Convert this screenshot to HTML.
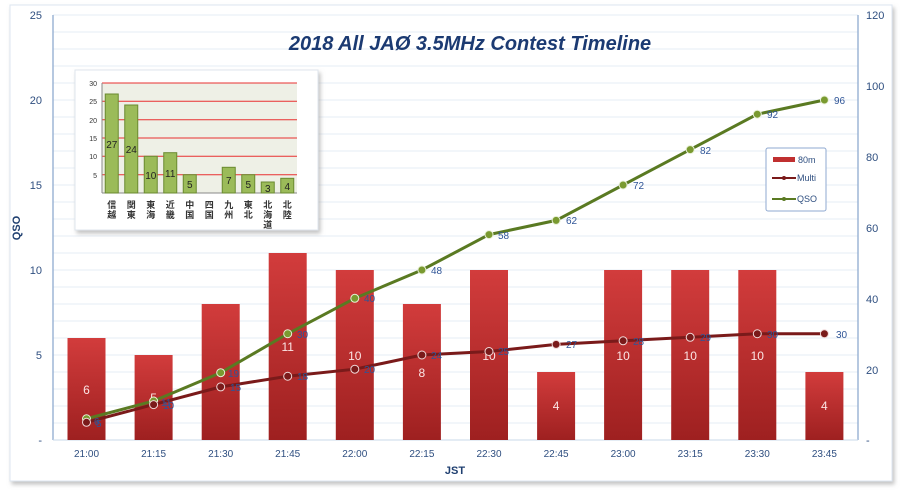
<!DOCTYPE html>
<html><head><meta charset="utf-8"><style>
body{margin:0;background:#fff;}
svg{display:block;font-family:"Liberation Sans","Noto Sans CJK JP",sans-serif;}
</style></head><body>
<svg width="900" height="490" viewBox="0 0 900 490">
<defs>
<linearGradient id="bar" x1="0" y1="0" x2="0" y2="1"><stop offset="0" stop-color="#d23c3c"/><stop offset="1" stop-color="#9e2020"/></linearGradient>
<filter id="sh" x="-5%" y="-5%" width="110%" height="115%"><feDropShadow dx="2" dy="3" stdDeviation="2" flood-color="#999" flood-opacity="0.6"/></filter>
</defs>
<rect x="10" y="5" width="882" height="476" fill="#fff" stroke="#dde6f0" filter="url(#sh)"/>
<g stroke="#e6edf5" stroke-width="1">
<line x1="53" x2="858" y1="423" y2="423"/><line x1="53" x2="858" y1="406" y2="406"/><line x1="53" x2="858" y1="389" y2="389"/><line x1="53" x2="858" y1="372" y2="372"/><line x1="53" x2="858" y1="355" y2="355"/><line x1="53" x2="858" y1="338" y2="338"/><line x1="53" x2="858" y1="321" y2="321"/><line x1="53" x2="858" y1="304" y2="304"/><line x1="53" x2="858" y1="287" y2="287"/><line x1="53" x2="858" y1="270" y2="270"/><line x1="53" x2="858" y1="253" y2="253"/><line x1="53" x2="858" y1="236" y2="236"/><line x1="53" x2="858" y1="219" y2="219"/><line x1="53" x2="858" y1="202" y2="202"/><line x1="53" x2="858" y1="185" y2="185"/><line x1="53" x2="858" y1="168" y2="168"/><line x1="53" x2="858" y1="151" y2="151"/><line x1="53" x2="858" y1="134" y2="134"/><line x1="53" x2="858" y1="117" y2="117"/><line x1="53" x2="858" y1="100" y2="100"/><line x1="53" x2="858" y1="83" y2="83"/><line x1="53" x2="858" y1="66" y2="66"/><line x1="53" x2="858" y1="49" y2="49"/><line x1="53" x2="858" y1="32" y2="32"/><line x1="53" x2="858" y1="15" y2="15"/>
</g>
<line x1="53" y1="15" x2="53" y2="440" stroke="#9db5d5" stroke-width="1.5"/>
<line x1="858" y1="15" x2="858" y2="440" stroke="#9db5d5" stroke-width="1.5"/>
<line x1="53" y1="440" x2="858" y2="440" stroke="#c9d8ea"/>
<g font-size="11" fill="#2f4f80" text-anchor="end">
<text x="42" y="19">25</text><text x="42" y="104">20</text><text x="42" y="189">15</text><text x="42" y="274">10</text><text x="42" y="359">5</text><text x="42" y="444">-</text>
</g>
<g font-size="11" fill="#2f4f80" text-anchor="start">
<text x="866" y="19">120</text><text x="866" y="90">100</text><text x="866" y="161">80</text><text x="866" y="232">60</text><text x="866" y="303">40</text><text x="866" y="374">20</text><text x="866" y="444">-</text>
</g>
<text x="20" y="228" font-size="11" font-weight="bold" fill="#1f3f70" transform="rotate(-90 20 228)" text-anchor="middle">QSO</text>
<text x="455" y="474" font-size="11" font-weight="bold" fill="#1f3f70" text-anchor="middle">JST</text>
<g font-size="10" fill="#2f4f80" text-anchor="middle">
<text x="86.5" y="457">21:00</text><text x="153.6" y="457">21:15</text><text x="220.7" y="457">21:30</text><text x="287.7" y="457">21:45</text><text x="354.8" y="457">22:00</text><text x="421.9" y="457">22:15</text><text x="489" y="457">22:30</text><text x="556.1" y="457">22:45</text><text x="623.1" y="457">23:00</text><text x="690.2" y="457">23:15</text><text x="757.3" y="457">23:30</text><text x="824.4" y="457">23:45</text>
</g>
<g fill="url(#bar)">
<rect x="67.5" y="338" width="38" height="102"/><rect x="134.6" y="355" width="38" height="85"/><rect x="201.7" y="304" width="38" height="136"/><rect x="268.7" y="253" width="38" height="187"/><rect x="335.8" y="270" width="38" height="170"/><rect x="402.9" y="304" width="38" height="136"/><rect x="470" y="270" width="38" height="170"/><rect x="537.1" y="372" width="38" height="68"/><rect x="604.1" y="270" width="38" height="170"/><rect x="671.2" y="270" width="38" height="170"/><rect x="738.3" y="270" width="38" height="170"/><rect x="805.4" y="372" width="38" height="68"/>
</g>
<g font-size="12" fill="#fbe5e5" text-anchor="middle">
<text x="86.5" y="394">6</text><text x="153.6" y="402">5</text><text x="220.7" y="377">8</text><text x="287.7" y="351">11</text><text x="354.8" y="360">10</text><text x="421.9" y="377">8</text><text x="489" y="360">10</text><text x="556.1" y="410">4</text><text x="623.1" y="360">10</text><text x="690.2" y="360">10</text><text x="757.3" y="360">10</text><text x="824.4" y="410">4</text>
</g>
<polyline fill="none" stroke="#5a7a22" stroke-width="3" points="86.5,418.75 153.6,401 220.7,372.7 287.7,333.75 354.8,298.3 421.9,270 489,234.6 556.1,220.4 623.1,185 690.2,149.6 757.3,114.2 824.4,100"/>
<g fill="#7a9a30" stroke="#e8f0d8" stroke-width="1">
<circle cx="86.5" cy="418.75" r="4"/><circle cx="153.6" cy="401" r="4"/><circle cx="220.7" cy="372.7" r="4"/><circle cx="287.7" cy="333.75" r="4"/><circle cx="354.8" cy="298.3" r="4"/><circle cx="421.9" cy="270" r="4"/><circle cx="489" cy="234.6" r="4"/><circle cx="556.1" cy="220.4" r="4"/><circle cx="623.1" cy="185" r="4"/><circle cx="690.2" cy="149.6" r="4"/><circle cx="757.3" cy="114.2" r="4"/><circle cx="824.4" cy="100" r="4"/>
</g>
<polyline fill="none" stroke="#7a1a1a" stroke-width="3" points="86.5,422.3 153.6,404.6 220.7,386.9 287.7,376.25 354.8,369.2 421.9,355 489,351.5 556.1,344.4 623.1,340.8 690.2,337.3 757.3,333.75 824.4,333.75"/>
<g fill="#7a1a1a" stroke="#f0d8d8" stroke-width="1">
<circle cx="86.5" cy="422.3" r="4"/><circle cx="153.6" cy="404.6" r="4"/><circle cx="220.7" cy="386.9" r="4"/><circle cx="287.7" cy="376.25" r="4"/><circle cx="354.8" cy="369.2" r="4"/><circle cx="421.9" cy="355" r="4"/><circle cx="489" cy="351.5" r="4"/><circle cx="556.1" cy="344.4" r="4"/><circle cx="623.1" cy="340.8" r="4"/><circle cx="690.2" cy="337.3" r="4"/><circle cx="757.3" cy="333.75" r="4"/><circle cx="824.4" cy="333.75" r="4"/>
</g>
<g font-size="10" fill="#2f5597">
<text x="94" y="425">6</text><text x="161" y="406">11</text><text x="228" y="377">19</text><text x="297" y="338">30</text><text x="364" y="302">40</text><text x="431" y="274">48</text><text x="498" y="239">58</text><text x="566" y="224">62</text><text x="633" y="189">72</text><text x="700" y="154">82</text><text x="767" y="118">92</text><text x="834" y="104">96</text>
<text x="96" y="427">5</text><text x="163" y="409">10</text><text x="230" y="391">15</text><text x="297" y="380">18</text><text x="364" y="373">20</text><text x="431" y="359">24</text><text x="498" y="355">25</text><text x="566" y="348">27</text><text x="633" y="345">28</text><text x="700" y="341">29</text><text x="767" y="338">30</text><text x="836" y="338">30</text>
</g>
<text x="470" y="50" font-size="20" font-weight="bold" font-style="italic" fill="#1b3a72" text-anchor="middle">2018 All JAØ 3.5MHz Contest Timeline</text>
<rect x="766" y="148" width="60" height="63" fill="#fff" stroke="#8fa9d0" rx="2"/>
<rect x="773" y="157" width="22" height="5" fill="#c03030"/>
<text x="798" y="163" font-size="9" fill="#2f4f80">80m</text>
<line x1="772" y1="178" x2="796" y2="178" stroke="#7a1a1a" stroke-width="2"/><circle cx="784" cy="178" r="2" fill="#7a1a1a"/>
<text x="797" y="181" font-size="9" fill="#2f4f80">Multi</text>
<line x1="772" y1="199" x2="796" y2="199" stroke="#5a7a22" stroke-width="2"/><circle cx="784" cy="199" r="2" fill="#5a7a22"/>
<text x="797" y="202" font-size="9" fill="#2f4f80">QSO</text>
<rect x="75" y="70" width="243" height="160" fill="#fff" stroke="#dfe5ec" filter="url(#sh)"/>
<rect x="102" y="83" width="195" height="110" fill="#eef0e6"/>
<g stroke="#e83030" stroke-width="1">
<line x1="102" x2="297" y1="83" y2="83"/><line x1="102" x2="297" y1="101.3" y2="101.3"/><line x1="102" x2="297" y1="119.7" y2="119.7"/><line x1="102" x2="297" y1="138" y2="138"/><line x1="102" x2="297" y1="156.3" y2="156.3"/><line x1="102" x2="297" y1="174.7" y2="174.7"/>
</g>
<line x1="102" y1="83" x2="102" y2="193" stroke="#888"/>
<line x1="102" y1="193" x2="297" y2="193" stroke="#888"/>
<g font-size="7" fill="#333" text-anchor="end">
<text x="97" y="86">30</text><text x="97" y="104">25</text><text x="97" y="123">20</text><text x="97" y="141">15</text><text x="97" y="159">10</text><text x="97" y="178">5</text>
</g>
<g fill="#9bbb59" stroke="#6a8a30" stroke-width="1">
<rect x="105.25" y="94" width="13" height="99"/><rect x="124.75" y="105" width="13" height="88"/><rect x="144.25" y="156.3" width="13" height="36.7"/><rect x="163.75" y="152.7" width="13" height="40.3"/><rect x="183.25" y="174.7" width="13" height="18.3"/><rect x="222.25" y="167.3" width="13" height="25.7"/><rect x="241.75" y="174.7" width="13" height="18.3"/><rect x="261.25" y="182" width="13" height="11"/><rect x="280.75" y="178.3" width="13" height="14.7"/>
</g>
<g font-size="10" fill="#222" text-anchor="middle">
<text x="111.75" y="148">27</text><text x="131.25" y="153">24</text><text x="150.75" y="179">10</text><text x="170.25" y="177">11</text><text x="189.75" y="188">5</text><text x="228.75" y="184">7</text><text x="248.25" y="188">5</text><text x="267.75" y="192">3</text><text x="287.25" y="190">4</text>
</g>
<g font-size="9" font-weight="bold" fill="#333" text-anchor="middle">
<text x="111.75" y="208">信</text><text x="111.75" y="218">越</text>
<text x="131.25" y="208">関</text><text x="131.25" y="218">東</text>
<text x="150.75" y="208">東</text><text x="150.75" y="218">海</text>
<text x="170.25" y="208">近</text><text x="170.25" y="218">畿</text>
<text x="189.75" y="208">中</text><text x="189.75" y="218">国</text>
<text x="209.25" y="208">四</text><text x="209.25" y="218">国</text>
<text x="228.75" y="208">九</text><text x="228.75" y="218">州</text>
<text x="248.25" y="208">東</text><text x="248.25" y="218">北</text>
<text x="267.75" y="208">北</text><text x="267.75" y="218">海</text><text x="267.75" y="228">道</text>
<text x="287.25" y="208">北</text><text x="287.25" y="218">陸</text>
</g>
</svg>
</body></html>
